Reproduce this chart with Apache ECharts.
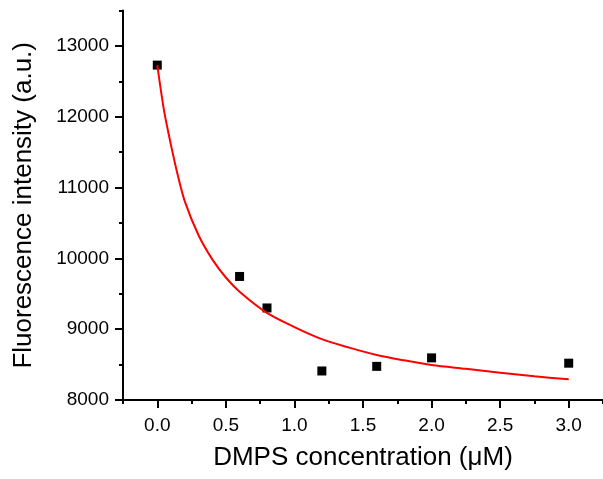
<!DOCTYPE html>
<html>
<head>
<meta charset="utf-8">
<script src="https://cdn.jsdelivr.net/npm/echarts@6/dist/echarts.min.js"></script>
<style>
html,body{margin:0;padding:0;background:#fff;}
#chart{width:603px;height:479px;}
</style>
</head>
<body>
<div id="chart"></div>
<script>
// Measured data points
var concX = [0, 0.6, 0.8, 1.2, 1.6, 2.0, 3.0];
var intensityY = [12730, 9745, 9300, 8410, 8475, 8595, 8520];

// Fitted curve
var fitX = [0, 0.05, 0.1, 0.15, 0.2, 0.3, 0.4, 0.5, 0.6, 0.8, 1.0, 1.2, 1.4, 1.6, 1.8, 2.0, 2.25, 2.5, 2.75, 3.0];
var fitY = [12730, 12080, 11600, 11170, 10810, 10330, 9990, 9730, 9530, 9230, 9030, 8860, 8740, 8636, 8560, 8494, 8440, 8386, 8335, 8292];

// Tick values
var xMajorTicks = [0, 0.5, 1.0, 1.5, 2.0, 2.5, 3.0];
var xMinorTicks = [-0.25, 0.25, 0.75, 1.25, 1.75, 2.25, 2.75, 3.25];
var yMajorTicks = [8000, 9000, 10000, 11000, 12000, 13000];
var yMinorTicks = [8500, 9500, 10500, 11500, 12500, 13500];

var xTitle = 'DMPS concentration (\u03bcM)';
var yTitle = 'Fluorescence intensity (a.u.)';

function zip(a, b) { return a.map(function (v, i) { return [v, b[i]]; }); }

var FONT = 'Liberation Sans';
var lineStyle = { color: '#000', width: 2 };

var chart = echarts.init(document.getElementById('chart'), null, { renderer: 'canvas' });
chart.setOption({
  animation: false,
  backgroundColor: '#fff',
  grid: { left: 123, right: -4, top: 10.6, bottom: 79, containLabel: false },
  xAxis: [{
    type: 'value', min: -0.25, max: 3.25, position: 'bottom',
    axisLine: { show: true, onZero: false, lineStyle: lineStyle },
    axisTick: { show: true, inside: false, length: 8, lineStyle: lineStyle, customValues: xMajorTicks },
    axisLabel: { show: true, margin: 16, fontFamily: FONT, fontSize: 19, color: '#000', customValues: xMajorTicks,
      formatter: function (v) { return v.toFixed(1); } },
    splitLine: { show: false },
    name: xTitle, nameLocation: 'middle', nameGap: 45,
    nameTextStyle: { fontFamily: FONT, fontSize: 26, color: '#000' }
  }, {
    type: 'value', min: -0.25, max: 3.25, position: 'bottom', offset: 0,
    axisLine: { show: false, onZero: false },
    axisTick: { show: true, inside: false, length: 4, lineStyle: lineStyle, customValues: xMinorTicks },
    axisLabel: { show: false },
    splitLine: { show: false }
  }],
  yAxis: [{
    type: 'value', min: 8000, max: 13500, position: 'left',
    axisLine: { show: true, onZero: false, lineStyle: lineStyle },
    axisTick: { show: true, inside: false, length: 8, lineStyle: lineStyle, customValues: yMajorTicks },
    axisLabel: { show: true, margin: 14, fontFamily: FONT, fontSize: 19, color: '#000', customValues: yMajorTicks,
      formatter: function (v) { return String(v); } },
    splitLine: { show: false },
    name: yTitle, nameLocation: 'middle', nameGap: 86, nameRotate: 90,
    nameTextStyle: { fontFamily: FONT, fontSize: 26, color: '#000' }
  }, {
    type: 'value', min: 8000, max: 13500, position: 'left', offset: 0,
    axisLine: { show: false, onZero: false },
    axisTick: { show: true, inside: false, length: 4, lineStyle: lineStyle, customValues: yMinorTicks },
    axisLabel: { show: false },
    splitLine: { show: false }
  }],
  series: [{
    type: 'scatter', xAxisIndex: 0, yAxisIndex: 0,
    data: zip(concX, intensityY),
    symbol: 'rect', symbolSize: 9,
    itemStyle: { color: '#000', opacity: 1 }, z: 2
  }, {
    type: 'line', xAxisIndex: 0, yAxisIndex: 0,
    data: zip(fitX, fitY),
    showSymbol: false, smooth: 0.3,
    lineStyle: { color: '#ff0000', width: 2 }, z: 3
  }]
});
</script>
</body>
</html>
